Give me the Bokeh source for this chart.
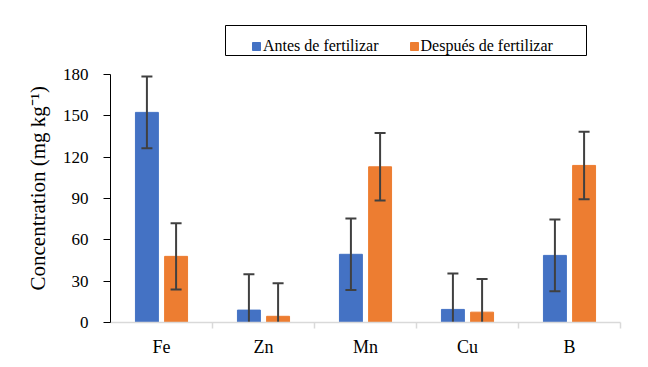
import numpy as np
from bokeh.plotting import figure
from bokeh.models import (ColumnDataSource, Range1d, FixedTicker, Legend, LegendItem,
                          BoxAnnotation, Title)
from bokeh.transform import dodge
from bokeh.embed import file_html
from bokeh.resources import INLINE

categories = ["Fe", "Zn", "Mn", "Cu", "B"]
antes = [152.5, 9, 49.5, 9.5, 48.7]
despues = [48, 4.5, 113, 7.5, 114]
antes_err = [26, 26, 26, 26, 26]
despues_err = [24, 24, 24.5, 24, 24.5]
yticks = [0, 30, 60, 90, 120, 150, 180]

BLUE = "#4472C4"
ORANGE = "#ED7D31"
ERR = "#404040"
FONT = "Liberation Serif"

xpos = np.arange(len(categories)) + 0.5
src = ColumnDataSource(dict(
    x=xpos,
    antes=antes, despues=despues,
    a_lo=np.array(antes) - np.array(antes_err), a_hi=np.array(antes) + np.array(antes_err),
    d_lo=np.array(despues) - np.array(despues_err), d_hi=np.array(despues) + np.array(despues_err),
))

FRAME_H = 302
AXIS_H = 248  # pixels spanned by 0..180
ymax = yticks[-1] * FRAME_H / AXIS_H

p = figure(frame_width=510, frame_height=FRAME_H,
           min_border_left=110, min_border_right=20, min_border_top=20, min_border_bottom=37,
           x_range=Range1d(0, len(categories)), y_range=Range1d(0, ymax),
           output_backend="svg", toolbar_location=None)
p.outline_line_color = None
p.grid.visible = False
p.background_fill_color = "white"
p.border_fill_color = "white"

off = 0.143
bw = 0.225
r1 = p.vbar(x=dodge("x", -off), top="antes", width=bw, source=src, color=BLUE)
r2 = p.vbar(x=dodge("x", off), top="despues", width=bw, source=src, color=ORANGE)

for key, lo, hi in ((-off, "a_lo", "a_hi"), (off, "d_lo", "d_hi")):
    p.segment(x0=dodge("x", key), x1=dodge("x", key), y0=lo, y1=hi, source=src,
              line_color=ERR, line_width=2)
    for end in (lo, hi):
        p.scatter(x=dodge("x", key), y=end, marker="dash", size=11, source=src,
                  line_color=ERR, line_width=2)

# axes
xa = p.xaxis[0]
xa.ticker = FixedTicker(ticks=list(xpos), minor_ticks=list(range(1, len(categories) + 1)))
xa.major_label_overrides = {float(v): c for v, c in zip(xpos, categories)}
xa.major_tick_line_color = None
xa.major_tick_out = 0
xa.major_tick_in = 0
xa.minor_tick_out = 6
xa.minor_tick_in = 0
xa.minor_tick_line_color = "#D9D9D9"
xa.minor_tick_line_width = 1.5
xa.axis_line_color = "#D9D9D9"
xa.axis_line_width = 1.5
xa.major_label_standoff = 8
xa.major_label_text_font = FONT
xa.major_label_text_font_size = "18px"
xa.major_label_text_color = "black"

ya = p.yaxis[0]
ya.ticker = FixedTicker(ticks=yticks)
ya.bounds = (0, yticks[-1])
ya.minor_tick_line_color = None
ya.major_tick_out = 7
ya.major_tick_in = 0
ya.major_tick_line_color = "black"
ya.axis_line_color = "black"
ya.major_label_standoff = 15
ya.major_label_text_font = FONT
ya.major_label_text_font_size = "17px"
ya.major_label_text_color = "black"

ylabel = Title(text="Concentration (mg kg⁻¹)", align="left", offset=32, standoff=19,
               text_font=FONT, text_font_size="21px", text_font_style="normal",
               text_color="black")
p.add_layout(ylabel, "left")

# legend
legend = Legend(items=[LegendItem(label="Antes de fertilizar", renderers=[r1]),
                       LegendItem(label="Después de fertilizar", renderers=[r2])],
                orientation="horizontal", location=(141, 267), margin=0,
                border_line_color=None, background_fill_alpha=0,
                padding=5, spacing=30, label_standoff=2,
                glyph_width=10, glyph_height=10,
                label_text_font=FONT, label_text_font_size="16px",
                label_text_color="black")
p.add_layout(legend, "center")

box = BoxAnnotation(left=115, right=476, bottom=267, top=297,
                    left_units="screen", right_units="screen",
                    bottom_units="screen", top_units="screen",
                    fill_alpha=0, line_color="black", line_width=1, line_alpha=1)
p.add_layout(box)

open("out.html", "w").write(file_html(p, INLINE))
